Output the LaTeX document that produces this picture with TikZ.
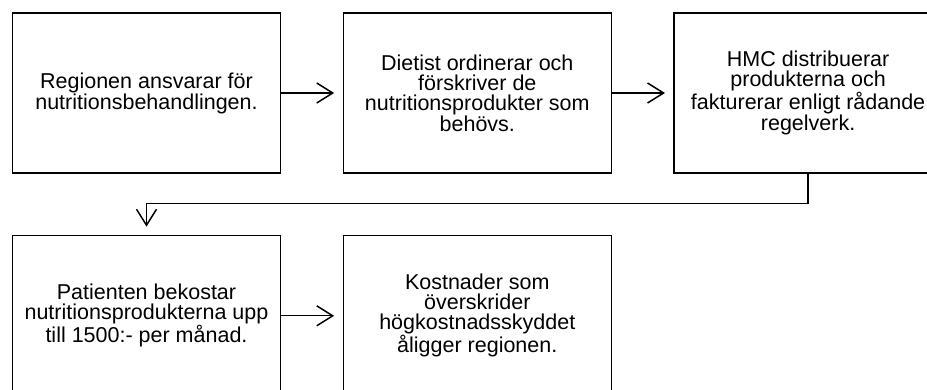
\documentclass[tikz,border=0pt]{standalone}
\usepackage{fontspec}
\setmainfont{Liberation Sans}
\usetikzlibrary{positioning, arrows.meta}

\tikzset{
  box/.style={draw, line width=1.3pt, minimum width=268pt, minimum height=160pt,
    inner sep=0pt, align=center, font=\fontsize{21.5}{20}\selectfont},
  flow/.style={line width=1.3pt, shorten >=8.5pt,
    -{Straight Barb[length=16pt,width=20pt,line width=1.5pt]}}
}

\begin{document}
\begin{tikzpicture}[x=1pt,y=1pt,node distance=61.5pt]
    \useasboundingbox (0,0) rectangle (927,-390);
    \clip (0,0) rectangle (927,-390);

    % top row
    \node[box] (b1) at (146.5,-93) {Regionen ansvarar för\\nutritionsbehandlingen.};
    \node[box, right=of b1] (b2) {Dietist ordinerar och\\förskriver de\\nutritionsprodukter som\\behövs.};
    \node[box, right=of b2] (b3) {HMC distribuerar\\produkterna och\\fakturerar enligt rådande\\regelverk.};

    % bottom row
    \node[box, below=of b1] (b4) {Patienten bekostar\\nutritionsprodukterna upp\\till 1500:- per månad.};
    \node[box, right=of b4] (b5) {Kostnader som\\överskrider\\högkostnadsskyddet\\åligger regionen.};

    \draw[flow] (b1) -- (b2);
    \draw[flow] (b2) -- (b3);
    \draw[flow] (b3.south) -- ++(0,-30) -| (b4.north);
    \draw[flow] (b4) -- (b5);
\end{tikzpicture}
\end{document}
